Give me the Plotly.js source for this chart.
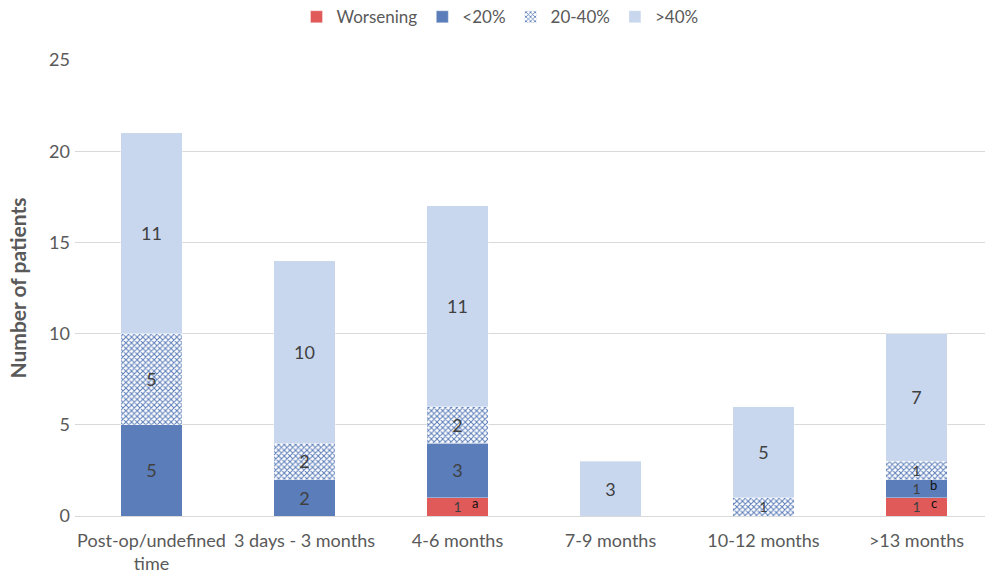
<!DOCTYPE html>
<html>
<head>
<meta charset="utf-8">
<script src="https://cdn.plot.ly/plotly-3.0.1.min.js"></script>
<style>
html,body{margin:0;padding:0;overflow:hidden;background:#fff;}
#chart{width:1000px;height:575px;}
</style>
</head>
<body>
<div id="chart"></div>
<script>
const categories = ["Post-op/undefined<br>time", "3 days - 3 months", "4-6 months", "7-9 months", "10-12 months", ">13 months"];
const worsening = [0, 0, 1, 0, 0, 1];
const under20 = [5, 2, 3, 0, 0, 1];
const mid20to40 = [5, 2, 2, 0, 1, 1];
const over40 = [11, 10, 11, 3, 5, 7];
const seriesNames = ["Worsening", "<20%", "20-40%", ">40%"];
// superscript notes: [category index, series index, label]
const notes = [[2, 0, "a"], [5, 1, "b"], [5, 0, "c"]];

const FONT = "Lato, 'Open Sans', sans-serif";

function txt(arr){ return arr.map(v => v > 0 ? String(v) : ""); }

function mk(name, vals, color, pattern){
  const m = {color: color, line: {width: 0.6, color: "rgba(255,255,255,0.6)"}};
  if (pattern) m.pattern = pattern;
  return {
    type: "bar", name: name, x: categories, y: vals,
    text: txt(vals), textposition: "inside", insidetextanchor: "middle",
    textangle: 0, constraintext: "none",
    textfont: {family: FONT, size: vals.map(v => v <= 1 ? 14 : 18), color: "#404040"},
    marker: m, hoverinfo: "skip", cliponaxis: false
  };
}

const data = [
  mk(seriesNames[0], worsening, "#E05A5A"),
  mk(seriesNames[1], under20, "#5B7DB9"),
  mk(seriesNames[2], mid20to40, "#FFFFFF", {shape: "x", fgcolor: "#5B7DB9", bgcolor: "#FFFFFF", size: 4, solidity: 0.45}),
  mk(seriesNames[3], over40, "#C9D7EE")
];

const stacks = [worsening, under20, mid20to40, over40];
const annotations = notes.map(([ci, si, lab]) => {
  let base = 0;
  for (let k = 0; k < si; k++) base += stacks[k][ci];
  const mid = base + stacks[si][ci] / 2;
  return {
    x: categories[ci], y: mid, xref: "x", yref: "y", text: lab, showarrow: false,
    xshift: 17, yshift: 4, font: {family: FONT, size: 13, color: "#111"}
  };
});

const layout = {
  width: 1000, height: 575,
  margin: {l: 75, r: 7, t: 60, b: 59},
  barmode: "stack", bargap: 0.6,
  paper_bgcolor: "#fff", plot_bgcolor: "#fff",
  font: {family: FONT, color: "#595959", size: 17},
  showlegend: true,
  legend: {orientation: "h", x: 0.5, xanchor: "center", xref: "container",
           y: 0.97, yanchor: "middle", yref: "container",
           font: {family: FONT, size: 17, color: "#595959"}, traceorder: "normal",
           itemwidth: 30, tracegroupgap: 0},
  xaxis: {
    type: "category", showgrid: false, zeroline: false,
    showline: true, linecolor: "#D9D9D9", linewidth: 1,
    tickfont: {family: FONT, size: 18, color: "#595959"}, ticks: "",
    ticklabelstandoff: 8
  },
  yaxis: {
    range: [0, 25], dtick: 5, showgrid: true, gridcolor: "#D9D9D9", gridwidth: 1,
    zeroline: false, showline: false, ticks: "",
    tickfont: {family: FONT, size: 18, color: "#595959"},
    ticklabelstandoff: 4,
    title: {text: "<b>Number of patients</b>", font: {family: FONT, size: 21, color: "#595959"}, standoff: 16}
  },
  annotations: annotations
};

Plotly.newPlot("chart", data, layout, {displayModeBar: false, staticPlot: true});
</script>
</body>
</html>
